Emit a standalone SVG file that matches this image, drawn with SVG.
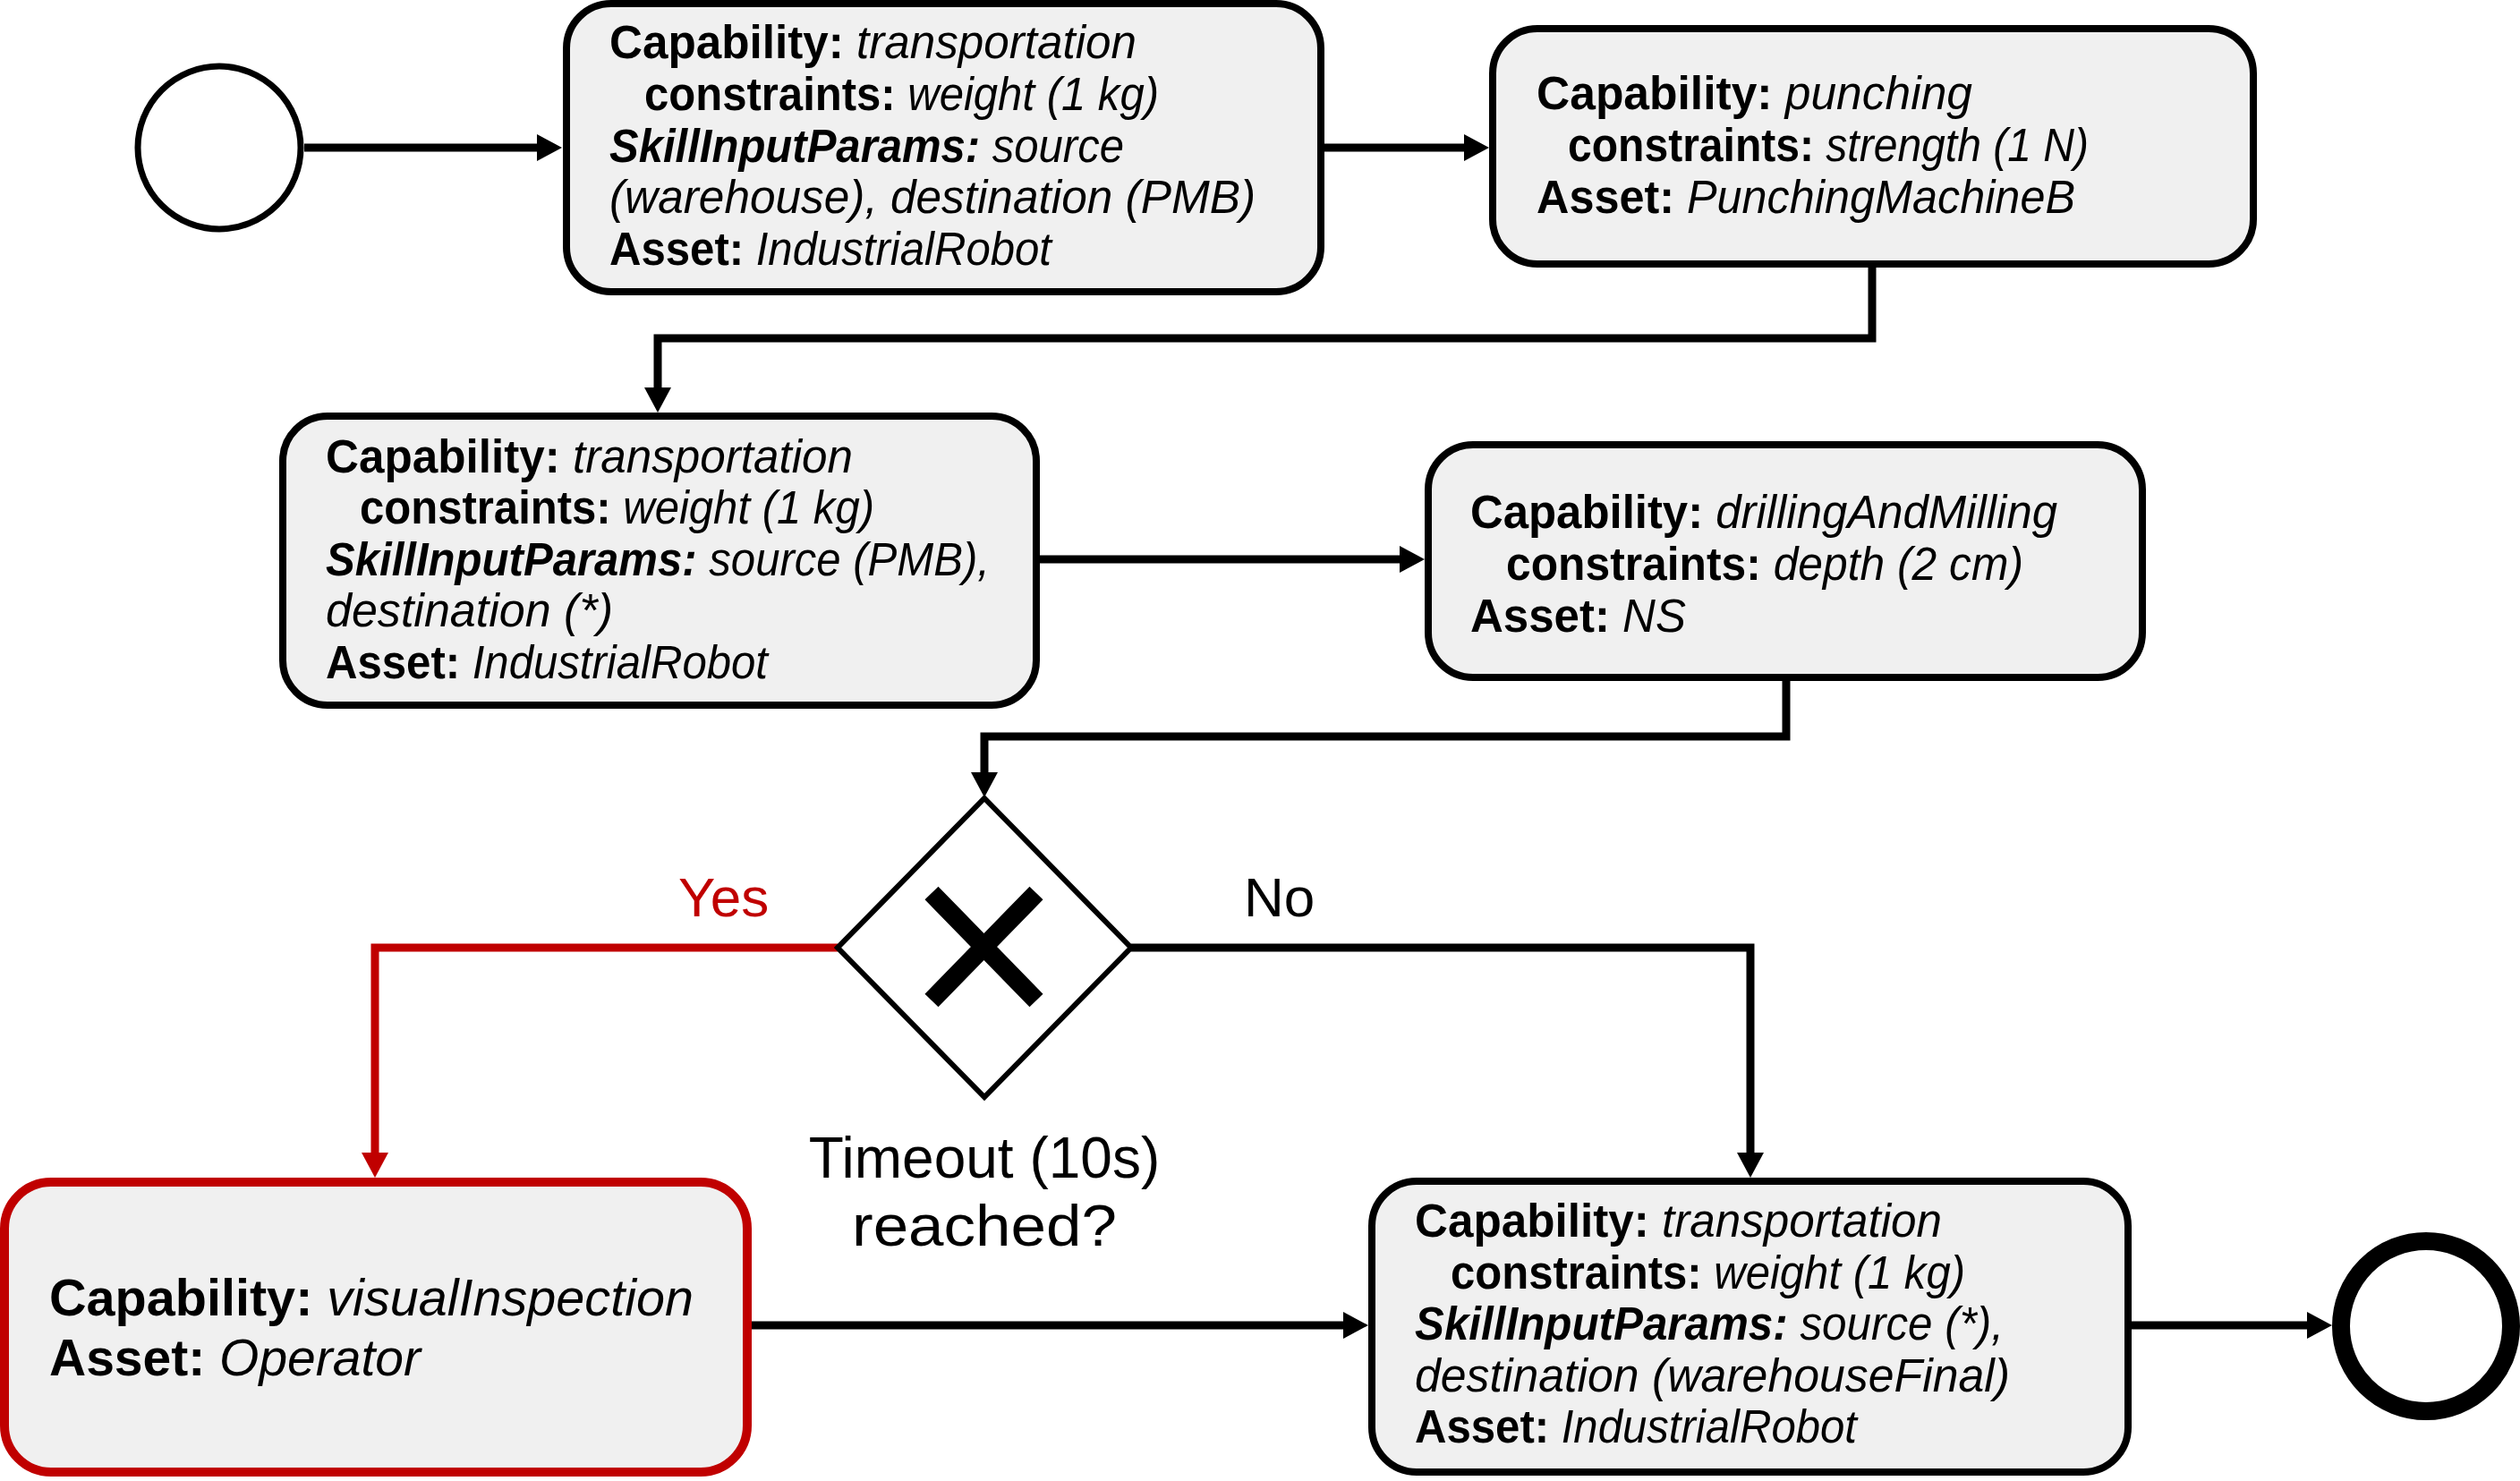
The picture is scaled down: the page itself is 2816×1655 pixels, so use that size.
<svg xmlns="http://www.w3.org/2000/svg" width="2816" height="1655" viewBox="0 0 2816 1655">
<style>
  .box { fill: #F0F0F0; stroke: #000; stroke-width: 8; }
  .rbox { fill: #F0F0F0; stroke: #C00000; stroke-width: 10; }
  .t { font-family: "Liberation Sans", Arial, sans-serif; font-size: 51px; fill: #000; }
  .tr { font-family: "Liberation Sans", Arial, sans-serif; font-size: 57px; fill: #000; }
  .b { font-weight: bold; }
  .i { font-style: italic; }
  .bi { font-weight: bold; font-style: italic; }
  .con { fill: none; stroke: #000; stroke-width: 9; }
  .rcon { fill: none; stroke: #C00000; stroke-width: 9; }
  .lbl { font-family: "Liberation Sans", Arial, sans-serif; font-size: 62px; fill: #000; }
  .big { font-size: 64px; }
</style>
<defs>
  <marker id="ah" markerUnits="userSpaceOnUse" markerWidth="30" markerHeight="32" refX="0" refY="15" orient="auto" overflow="visible">
    <path d="M0,0 L28,15 L0,30 Z" fill="#000"/>
  </marker>
  <marker id="ahr" markerUnits="userSpaceOnUse" markerWidth="30" markerHeight="32" refX="0" refY="15" orient="auto" overflow="visible">
    <path d="M0,0 L28,15 L0,30 Z" fill="#C00000"/>
  </marker>
</defs>
<rect width="2816" height="1655" fill="#fff"/>

<g id="connectors">
  <path class="con" d="M340,165 H600" marker-end="url(#ah)"/>
  <path class="con" d="M1480,165 H1636" marker-end="url(#ah)"/>
  <path class="con" d="M2092,299 V378 H735 V433" marker-end="url(#ah)"/>
  <path class="con" d="M1162,625 H1564" marker-end="url(#ah)"/>
  <path class="con" d="M1996,761 V823 H1100 V863" marker-end="url(#ah)"/>
  <path class="rcon" d="M936,1059 H419 V1288" marker-end="url(#ahr)"/>
  <path class="con" d="M1264,1059 H1956 V1288" marker-end="url(#ah)"/>
  <path class="con" d="M840,1481 H1501" marker-end="url(#ah)"/>
  <path class="con" d="M2382,1481 H2578" marker-end="url(#ah)"/>
  <text class="lbl" x="758" y="1024" style="fill:#C00000">Yes</text>
  <text class="lbl" x="1390" y="1024">No</text>
</g>

<g id="start">
  <circle cx="245" cy="165" r="91" fill="#fff" stroke="#000" stroke-width="7"/>
</g>

<g id="node1">
  <rect class="box" x="633" y="4" width="843" height="322" rx="50"/>
  <text class="t" x="681" y="65" textLength="589" lengthAdjust="spacingAndGlyphs"><tspan class="b">Capability:</tspan> <tspan class="i">transportation</tspan></text>
  <text class="t" x="720" y="123" textLength="575" lengthAdjust="spacingAndGlyphs"><tspan class="b">constraints:</tspan> <tspan class="i">weight (1 kg)</tspan></text>
  <text class="t" x="681" y="181" textLength="575" lengthAdjust="spacingAndGlyphs"><tspan class="bi">SkillInputParams:</tspan> <tspan class="i">source</tspan></text>
  <text class="t" x="681" y="238" textLength="722" lengthAdjust="spacingAndGlyphs"><tspan class="i">(warehouse), destination (PMB)</tspan></text>
  <text class="t" x="681" y="296" textLength="494" lengthAdjust="spacingAndGlyphs"><tspan class="b">Asset:</tspan> <tspan class="i">IndustrialRobot</tspan></text>
</g>

<g id="node2">
  <rect class="box" x="1668" y="32" width="850" height="263" rx="50"/>
  <text class="t" x="1717" y="122" textLength="487" lengthAdjust="spacingAndGlyphs"><tspan class="b">Capability:</tspan> <tspan class="i">punching</tspan></text>
  <text class="t" x="1752" y="180" textLength="582" lengthAdjust="spacingAndGlyphs"><tspan class="b">constraints:</tspan> <tspan class="i">strength (1 N)</tspan></text>
  <text class="t" x="1717" y="238" textLength="602" lengthAdjust="spacingAndGlyphs"><tspan class="b">Asset:</tspan> <tspan class="i">PunchingMachineB</tspan></text>
</g>

<g id="node3">
  <rect class="box" x="316" y="465" width="842" height="323" rx="50"/>
  <text class="t" x="364" y="528" textLength="589" lengthAdjust="spacingAndGlyphs"><tspan class="b">Capability:</tspan> <tspan class="i">transportation</tspan></text>
  <text class="t" x="402" y="585" textLength="575" lengthAdjust="spacingAndGlyphs"><tspan class="b">constraints:</tspan> <tspan class="i">weight (1 kg)</tspan></text>
  <text class="t" x="364" y="643" textLength="742" lengthAdjust="spacingAndGlyphs"><tspan class="bi">SkillInputParams:</tspan> <tspan class="i">source (PMB),</tspan></text>
  <text class="t" x="364" y="700" textLength="321" lengthAdjust="spacingAndGlyphs"><tspan class="i">destination (*)</tspan></text>
  <text class="t" x="364" y="758" textLength="494" lengthAdjust="spacingAndGlyphs"><tspan class="b">Asset:</tspan> <tspan class="i">IndustrialRobot</tspan></text>
</g>

<g id="node4">
  <rect class="box" x="1596" y="497" width="798" height="260" rx="50"/>
  <text class="t" x="1643" y="590" textLength="656" lengthAdjust="spacingAndGlyphs"><tspan class="b">Capability:</tspan> <tspan class="i">drillingAndMilling</tspan></text>
  <text class="t" x="1683" y="648" textLength="578" lengthAdjust="spacingAndGlyphs"><tspan class="b">constraints:</tspan> <tspan class="i">depth (2 cm)</tspan></text>
  <text class="t" x="1643" y="706"><tspan class="b">Asset:</tspan> <tspan class="i">NS</tspan></text>
</g>

<g id="gateway">
  <polygon points="1100,892 1264,1059 1100,1226 936,1059" fill="#fff" stroke="#000" stroke-width="6"/>
  <path d="M1041,998 L1158,1118 M1158,998 L1041,1118" stroke="#000" stroke-width="21" fill="none"/>
  <text class="lbl big" x="1100" y="1316" text-anchor="middle">Timeout (10s)</text>
  <text class="lbl big" x="1100" y="1392" text-anchor="middle" textLength="296" lengthAdjust="spacingAndGlyphs">reached?</text>
</g>

<g id="node_inspection">
  <rect class="rbox" x="5" y="1321" width="830" height="324" rx="52"/>
  <text class="tr" x="55" y="1470" textLength="720" lengthAdjust="spacingAndGlyphs"><tspan class="b">Capability:</tspan> <tspan class="i">visualInspection</tspan></text>
  <text class="tr" x="55" y="1537" textLength="415" lengthAdjust="spacingAndGlyphs"><tspan class="b">Asset:</tspan> <tspan class="i">Operator</tspan></text>
</g>

<g id="node5">
  <rect class="box" x="1533" y="1320" width="845" height="325" rx="50"/>
  <text class="t" x="1581" y="1382" textLength="589" lengthAdjust="spacingAndGlyphs"><tspan class="b">Capability:</tspan> <tspan class="i">transportation</tspan></text>
  <text class="t" x="1621" y="1440" textLength="575" lengthAdjust="spacingAndGlyphs"><tspan class="b">constraints:</tspan> <tspan class="i">weight (1 kg)</tspan></text>
  <text class="t" x="1581" y="1497" textLength="658" lengthAdjust="spacingAndGlyphs"><tspan class="bi">SkillInputParams:</tspan> <tspan class="i">source (*),</tspan></text>
  <text class="t" x="1581" y="1555" textLength="665" lengthAdjust="spacingAndGlyphs"><tspan class="i">destination (warehouseFinal)</tspan></text>
  <text class="t" x="1581" y="1612" textLength="494" lengthAdjust="spacingAndGlyphs"><tspan class="b">Asset:</tspan> <tspan class="i">IndustrialRobot</tspan></text>
</g>

<g id="end">
  <circle cx="2711" cy="1482" r="95" fill="#fff" stroke="#000" stroke-width="20"/>
</g>
</svg>
